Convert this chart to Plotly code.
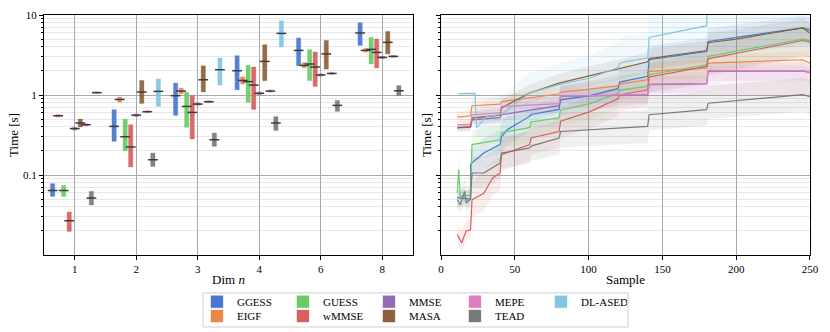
import plotly.graph_objects as go

# ---------------- data ----------------
dims = ["1", "2", "3", "4", "6", "8"]
methods = ["GGESS", "EIGF", "GUESS", "wMMSE", "MMSE", "MASA", "MEPE", "TEAD", "DL-ASED"]
colors = ["#4878d0", "#ee854a", "#6acc64", "#d65f5f", "#956cb4",
          "#8c613c", "#dc7ec0", "#797979", "#82c6e2"]
row1 = ["GGESS", "GUESS", "MMSE", "MEPE", "DL-ASED"]

# left panel: time per dimension (low, median, high)
ggess_lo = [0.054, 0.263, 0.556, 1.16, 2.32, 4.17]
ggess_med = [0.064, 0.405, 0.98, 2.01, 3.61, 5.96]
ggess_hi = [0.078, 0.655, 1.41, 3.1, 5.16, 8.0]
eigf_lo = [0.53, 0.81, 1.03, 1.37, 2.18, 3.45]
eigf_med = [0.55, 0.88, 1.12, 1.52, 2.34, 3.61]
eigf_hi = [0.57, 0.94, 1.22, 1.69, 2.55, 3.8]
guess_lo = [0.054, 0.201, 0.394, 0.808, 1.51, 2.44]
guess_med = [0.064, 0.301, 0.72, 1.47, 2.44, 3.72]
guess_hi = [0.074, 0.5, 1.08, 2.34, 3.68, 5.25]
wmmse_lo = [0.0197, 0.126, 0.282, 0.66, 1.28, 2.18]
wmmse_med = [0.0268, 0.224, 0.606, 1.33, 2.24, 3.41]
wmmse_hi = [0.0345, 0.425, 0.98, 2.24, 3.45, 5.01]
mmse_lo = [0.365, 0.54, 0.745, 1.01, 1.72, 2.85]
mmse_med = [0.38, 0.56, 0.77, 1.05, 1.78, 2.95]
mmse_hi = [0.395, 0.58, 0.80, 1.09, 1.84, 3.05]
masa_lo = [0.398, 0.785, 1.09, 1.51, 2.11, 3.26]
masa_med = [0.447, 1.09, 1.55, 2.63, 3.26, 4.55]
masa_hi = [0.501, 1.52, 2.32, 4.25, 4.81, 6.24]
mepe_lo = [0.41, 0.6, 0.80, 1.08, 1.80, 2.94]
mepe_med = [0.425, 0.618, 0.824, 1.12, 1.86, 3.04]
mepe_hi = [0.44, 0.64, 0.85, 1.16, 1.92, 3.14]
tead_lo = [0.0422, 0.128, 0.228, 0.361, 0.624, 0.98]
tead_med = [0.0516, 0.155, 0.276, 0.447, 0.741, 1.13]
tead_hi = [0.0624, 0.188, 0.335, 0.536, 0.856, 1.31]
dlased_lo = [1.04, 0.72, 1.33, 3.98, None, None]
dlased_med = [1.07, 1.11, 2.07, 5.89, None, None]
dlased_hi = [1.10, 1.585, 2.9, 8.49, None, None]

# right panel: time per sample (median curve with spread band)
ggess_s = [11, 20, 20, 29, 40, 41, 45, 60, 61, 80, 81, 101, 120, 121, 140, 141, 180, 181, 245, 250]
ggess_t = [0.052, 0.05, 0.137, 0.188, 0.24, 0.30, 0.37, 0.54, 0.57, 0.66, 0.87, 0.98, 1.2, 1.45, 1.71, 2.76, 3.5, 4.67, 6.9, 6.5]
ggess_tlo = [0.04, 0.04, 0.09, 0.12, 0.15, 0.19, 0.24, 0.35, 0.37, 0.43, 0.55, 0.62, 0.75, 0.9, 1.05, 1.7, 2.2, 2.9, 4.3, 4.1]
ggess_thi = [0.065, 0.065, 0.21, 0.29, 0.37, 0.46, 0.56, 0.82, 0.86, 1.0, 1.3, 1.5, 1.8, 2.2, 2.6, 4.1, 5.2, 6.8, 9.8, 9.2]

eigf_s = [11, 20, 21, 40, 41, 80, 81, 120, 121, 140, 141, 180, 181, 245, 250]
eigf_t = [0.53, 0.55, 0.735, 0.77, 0.83, 1.03, 1.08, 1.3, 1.37, 1.55, 1.97, 2.17, 2.51, 2.76, 2.5]
eigf_tlo = [0.45, 0.46, 0.6, 0.63, 0.68, 0.82, 0.86, 1.02, 1.08, 1.2, 1.5, 1.65, 1.9, 2.1, 1.9]
eigf_thi = [0.62, 0.65, 0.88, 0.92, 1.0, 1.25, 1.32, 1.6, 1.7, 1.95, 2.5, 2.8, 3.2, 3.5, 3.2]

guess_s = [11, 12, 13, 20, 21, 40, 41, 60, 61, 80, 81, 101, 120, 121, 140, 141, 180, 181, 245, 250]
guess_t = [0.06, 0.117, 0.054, 0.056, 0.24, 0.276, 0.34, 0.39, 0.46, 0.52, 0.65, 0.78, 1.05, 1.15, 1.28, 1.79, 2.39, 3.04, 5.0, 4.8]
guess_tlo = [0.045, 0.05, 0.042, 0.044, 0.15, 0.18, 0.22, 0.25, 0.29, 0.33, 0.41, 0.5, 0.66, 0.72, 0.8, 1.1, 1.5, 1.9, 3.1, 3.0]
guess_thi = [0.08, 0.2, 0.07, 0.075, 0.36, 0.42, 0.52, 0.6, 0.7, 0.8, 1.0, 1.2, 1.6, 1.75, 1.95, 2.7, 3.6, 4.6, 7.5, 7.2]

wmmse_s = [11, 14, 17, 20, 21, 29, 35, 40, 41, 60, 61, 80, 81, 101, 120, 121, 140, 141, 180, 181, 245, 250]
wmmse_t = [0.018, 0.0141, 0.02, 0.0207, 0.049, 0.059, 0.092, 0.106, 0.18, 0.24, 0.29, 0.35, 0.47, 0.62, 0.9, 1.0, 1.16, 1.68, 2.28, 2.83, 4.8, 4.6]
wmmse_tlo = [0.014, 0.011, 0.015, 0.016, 0.03, 0.036, 0.055, 0.065, 0.11, 0.15, 0.18, 0.22, 0.29, 0.38, 0.55, 0.62, 0.72, 1.05, 1.4, 1.75, 3.0, 2.9]
wmmse_thi = [0.024, 0.02, 0.027, 0.028, 0.08, 0.12, 0.15, 0.17, 0.28, 0.37, 0.45, 0.54, 0.72, 0.95, 1.35, 1.5, 1.75, 2.5, 3.4, 4.2, 7.0, 6.8]

mmse_s = [11, 20, 21, 40, 41, 80, 81, 140, 141, 180, 181, 245, 250]
mmse_t = [0.387, 0.40, 0.49, 0.52, 0.567, 0.735, 0.96, 1.0, 1.35, 1.38, 1.97, 2.0, 1.9]
mmse_tlo = [0.35, 0.36, 0.42, 0.44, 0.47, 0.6, 0.78, 0.8, 1.05, 1.07, 1.5, 1.52, 1.45]
mmse_thi = [0.43, 0.44, 0.57, 0.61, 0.67, 0.88, 1.15, 1.2, 1.7, 1.75, 2.5, 2.55, 2.4]

masa_s = [11, 20, 21, 40, 41, 60, 80, 101, 114, 140, 141, 180, 181, 200, 245, 250]
masa_t = [0.39, 0.40, 0.515, 0.56, 0.69, 1.06, 1.41, 1.74, 1.97, 2.6, 2.85, 3.6, 4.5, 5.0, 6.9, 5.96]
masa_tlo = [0.35, 0.36, 0.43, 0.46, 0.55, 0.8, 1.05, 1.3, 1.45, 1.9, 2.1, 2.6, 3.2, 3.6, 5.0, 4.3]
masa_thi = [0.43, 0.45, 0.62, 0.68, 0.86, 1.35, 1.85, 2.3, 2.6, 3.4, 3.8, 4.8, 6.0, 6.6, 9.0, 8.0]

mepe_s = [11, 20, 21, 40, 41, 80, 81, 140, 141, 180, 181, 245, 250]
mepe_t = [0.425, 0.43, 0.567, 0.6, 0.72, 0.78, 0.97, 1.02, 1.37, 1.4, 2.0, 2.02, 1.92]
mepe_tlo = [0.39, 0.39, 0.48, 0.5, 0.58, 0.62, 0.7, 0.72, 0.95, 0.97, 1.0, 1.0, 0.98]
mepe_thi = [0.47, 0.48, 0.66, 0.7, 0.88, 0.95, 1.3, 1.35, 1.9, 1.95, 2.3, 2.3, 2.2]

tead_s = [11, 13, 16, 17, 20, 21, 29, 40, 41, 60, 61, 80, 81, 120, 140, 141, 180, 181, 245, 250]
tead_t = [0.049, 0.0425, 0.0625, 0.045, 0.05, 0.106, 0.106, 0.141, 0.188, 0.218, 0.23, 0.29, 0.35, 0.387, 0.405, 0.567, 0.655, 0.79, 1.01, 0.95]
tead_tlo = [0.038, 0.034, 0.045, 0.036, 0.04, 0.07, 0.07, 0.09, 0.12, 0.14, 0.15, 0.18, 0.22, 0.24, 0.25, 0.36, 0.42, 0.5, 0.62, 0.58]
tead_thi = [0.065, 0.06, 0.09, 0.062, 0.07, 0.17, 0.17, 0.23, 0.3, 0.35, 0.37, 0.48, 0.6, 0.62, 0.65, 0.95, 1.1, 1.3, 1.62, 1.55]

dlased_s = [12, 23, 24, 31, 41, 51, 60, 80, 101, 120, 121, 126, 140, 141, 180, 181, 250]
dlased_t = [1.04, 1.05, 0.39, 0.54, 0.57, 0.8, 1.06, 1.35, 1.63, 2.2, 2.5, 2.63, 2.9, 5.25, 7.35, 30, 30]
dlased_tlo = [1.0, 1.0, 0.3, 0.3, 0.25, 0.35, 0.45, 0.6, 0.75, 1.0, 1.1, 1.2, 1.3, 2.2, 3.0, 3.5, 4.0]
dlased_thi = [1.08, 1.1, 0.6, 0.9, 1.0, 1.4, 1.9, 2.5, 3.2, 4.5, 5.0, 5.5, 6.0, 20, 30, 40, 40]

dim_stats = {
    "GGESS": (ggess_lo, ggess_med, ggess_hi),
    "EIGF": (eigf_lo, eigf_med, eigf_hi),
    "GUESS": (guess_lo, guess_med, guess_hi),
    "wMMSE": (wmmse_lo, wmmse_med, wmmse_hi),
    "MMSE": (mmse_lo, mmse_med, mmse_hi),
    "MASA": (masa_lo, masa_med, masa_hi),
    "MEPE": (mepe_lo, mepe_med, mepe_hi),
    "TEAD": (tead_lo, tead_med, tead_hi),
    "DL-ASED": (dlased_lo, dlased_med, dlased_hi),
}
sample_stats = {
    "GGESS": (ggess_s, ggess_t, ggess_tlo, ggess_thi),
    "EIGF": (eigf_s, eigf_t, eigf_tlo, eigf_thi),
    "GUESS": (guess_s, guess_t, guess_tlo, guess_thi),
    "wMMSE": (wmmse_s, wmmse_t, wmmse_tlo, wmmse_thi),
    "MMSE": (mmse_s, mmse_t, mmse_tlo, mmse_thi),
    "MASA": (masa_s, masa_t, masa_tlo, masa_thi),
    "MEPE": (mepe_s, mepe_t, mepe_tlo, mepe_thi),
    "TEAD": (tead_s, tead_t, tead_tlo, tead_thi),
    "DL-ASED": (dlased_s, dlased_t, dlased_tlo, dlased_thi),
}


def rgba(hex_color, a):
    h = hex_color.lstrip("#")
    r, g, b = int(h[0:2], 16), int(h[2:4], 16), int(h[4:6], 16)
    return f"rgba({r},{g},{b},{a})"


FONT = "Liberation Serif, Times New Roman, serif"
fig = go.Figure()

# ---------------- left: bars per dimension ----------------
step = 0.09
for k, name in enumerate(methods):
    lo, med, hi = dim_stats[name]
    off = (k - 4) * step
    xs = [i + off for i in range(len(dims))]
    heights = [None if h is None else h - l for l, h in zip(lo, hi)]
    fig.add_trace(go.Bar(
        x=xs, y=heights, base=lo, width=0.07,
        marker=dict(color=colors[k], opacity=0.92,
                    line=dict(color=rgba(colors[k], 0.35), width=1)),
        name=name, legend="legend" if name in row1 else "legend2",
        xaxis="x", yaxis="y", hoverinfo="skip",
    ))
    fig.add_trace(go.Scatter(
        x=xs, y=med, mode="markers",
        marker=dict(symbol="line-ew", size=7, line=dict(width=1.5, color="#3c3c3c")),
        showlegend=False, xaxis="x", yaxis="y", hoverinfo="skip",
    ))

# ---------------- right: time vs sample ----------------
for k, name in enumerate(methods):
    s, t, tlo, thi = sample_stats[name]
    fig.add_trace(go.Scatter(
        x=s + s[::-1], y=thi + tlo[::-1], fill="toself",
        fillcolor=rgba(colors[k], 0.11), line=dict(width=0),
        showlegend=False, xaxis="x2", yaxis="y2", hoverinfo="skip",
    ))
for k, name in enumerate(methods):
    s, t, tlo, thi = sample_stats[name]
    fig.add_trace(go.Scatter(
        x=s, y=t, mode="lines", line=dict(color=colors[k], width=1.2),
        showlegend=False, xaxis="x2", yaxis="y2", hoverinfo="skip",
    ))

minor_vals = [m * d for d in (0.01, 0.1, 1) for m in range(2, 10)]
yax = dict(
    type="log", range=[-2, 1], automargin=False,
    tickvals=[0.1, 1, 10], ticktext=["0.1", "1", "10"],
    showgrid=True, gridcolor="#a8a8a8", gridwidth=1,
    minor=dict(tickvals=minor_vals, showgrid=True, gridcolor="#e8e8e8",
               ticks="outside", ticklen=2, tickcolor="black"),
    ticks="outside", ticklen=4, tickcolor="black",
    showline=True, linecolor="black", linewidth=1, mirror=True,
    zeroline=False,
    title=dict(text="Time [s]", standoff=1),
)
xax_common = dict(
    showgrid=True, gridcolor="#a8a8a8", gridwidth=1, zeroline=False, automargin=False,
    ticks="outside", ticklen=4, tickcolor="black",
    showline=True, linecolor="black", linewidth=1, mirror=True,
)
legend_common = dict(orientation="h", xref="container", yref="container",
                     x=0.2373, xanchor="left", yanchor="middle",
                     entrywidth=41, bgcolor="rgba(0,0,0,0)", font=dict(size=11))

fig.update_layout(
    width=830, height=332,
    margin=dict(l=44, r=20, t=15, b=77),
    paper_bgcolor="white", plot_bgcolor="white",
    font=dict(family=FONT, size=11, color="black"),
    barmode="overlay",
    xaxis=dict(domain=[0, 0.4817], range=[-0.5, 5.5],
               tickvals=list(range(len(dims))), ticktext=dims,
               title=dict(text="Dim <i>n</i>", standoff=6), anchor="y", **xax_common),
    yaxis=dict(anchor="x", **yax),
    xaxis2=dict(domain=[0.5183, 1], range=[0, 250], dtick=50,
                title=dict(text="Sample", standoff=6), anchor="y2", **xax_common),
    yaxis2=dict(anchor="x2", showticklabels=False, **yax),
    legend=dict(y=0.0913, **legend_common),
    legend2=dict(y=0.048, **legend_common),
    shapes=[dict(type="rect", xref="paper", yref="paper",
                 x0=0.2076, x1=0.7624, y0=-0.30, y1=-0.158,
                 line=dict(color="#cfcfcf", width=1))],
)

fig.write_html("out.html", config={"displayModeBar": False},
               post_script="document.body.style.margin='0';")
